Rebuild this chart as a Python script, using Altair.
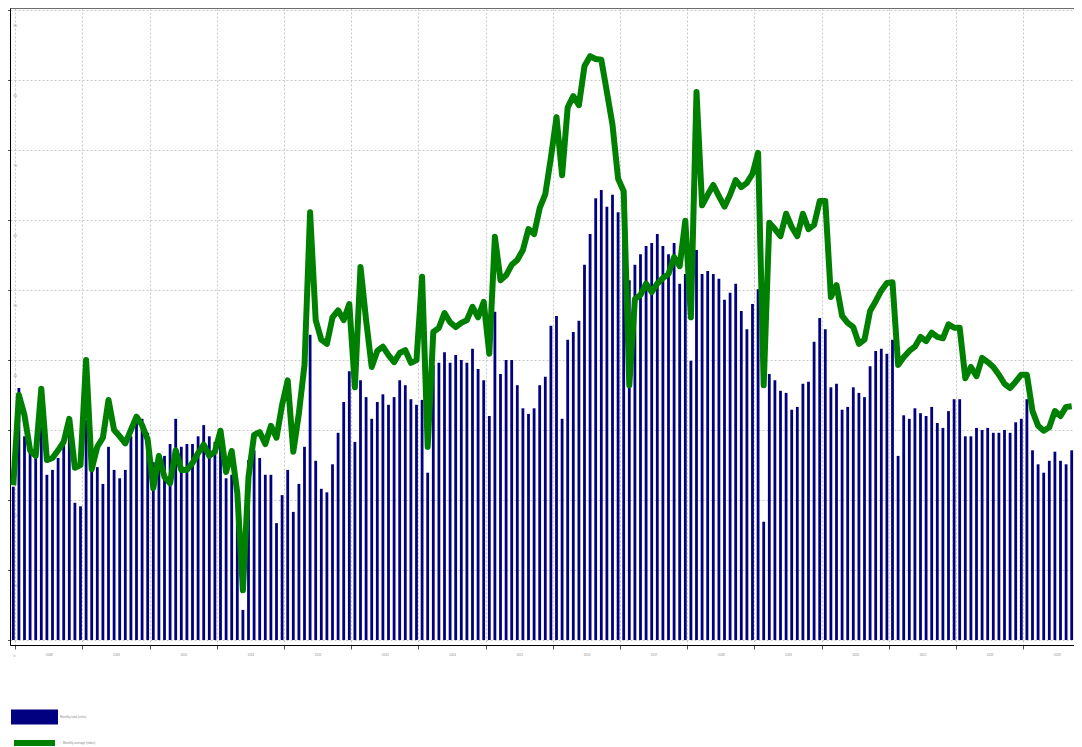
import altair as alt
import pandas as pd

# Monthly series (190 months). Values in chart units (gridline step = 10).
bar_values = [
    21.9, 36.0, 29.1, 27.1, 26.4, 30.4, 23.6, 24.3, 26.0, 27.9, 31.1, 19.6,
    19.1, 31.4, 24.4, 24.7, 22.3, 27.6, 24.3, 23.1, 24.3, 29.1, 31.4, 31.6,
    29.6, 25.4, 26.3, 26.3, 28.0, 31.6, 27.6, 28.0, 28.0, 29.1, 30.7, 29.1,
    28.3, 27.9, 23.1, 23.6, 21.4, 4.3, 25.7, 27.1, 26.0, 23.6, 23.6, 16.7,
    20.7, 24.3, 18.3, 22.3, 27.6, 43.6, 25.6, 21.6, 21.1, 25.1, 29.6, 34.0,
    38.4, 28.3, 37.1, 34.7, 31.6, 34.0, 35.1, 33.6, 34.7, 37.1, 36.4, 34.4,
    33.6, 34.3, 23.9, 39.3, 39.6, 41.1, 39.6, 40.7, 40.0, 39.6, 41.6, 38.7,
    37.1, 32.0, 46.9, 38.0, 40.0, 40.0, 36.4, 33.1, 32.3, 33.1, 36.4, 37.6,
    44.9, 46.3, 31.6, 42.9, 44.0, 45.6, 53.6, 58.0, 63.1, 64.3, 61.9, 63.6,
    61.1, 61.1, 51.4, 53.6, 55.1, 56.3, 56.7, 58.0, 56.3, 55.1, 56.7, 50.9,
    52.3, 39.9, 55.7, 52.3, 52.7, 52.3, 51.6, 48.6, 49.6, 50.9, 47.0, 44.4,
    48.0, 50.1, 16.9, 38.0, 37.1, 35.6, 35.3, 32.9, 33.3, 36.6, 36.9, 42.6,
    46.0, 44.4, 36.1, 36.6, 32.9, 33.3, 36.1, 35.3, 34.7, 39.1, 41.3, 41.6,
    40.9, 42.9, 26.3, 32.1, 31.6, 33.1, 32.4, 32.0, 33.3, 31.0, 30.3, 32.7,
    34.4, 34.4, 29.1, 29.1, 30.3, 30.0, 30.3, 29.6, 29.6, 30.0, 29.6, 31.1,
    31.6, 34.4, 27.1, 25.1, 23.9, 25.6, 26.9, 25.6, 25.1, 27.1,
]

line_values = [
    22.1, 35.0, 32.1, 27.1, 26.3, 35.9, 25.7, 26.0, 27.1, 28.3, 31.6, 24.6,
    25.0, 40.0, 24.4, 27.6, 28.9, 34.3, 30.0, 29.1, 28.1, 30.0, 31.9, 30.7,
    28.6, 21.7, 26.3, 23.3, 22.4, 27.1, 24.3, 24.3, 25.3, 26.7, 27.9, 26.3,
    26.9, 29.9, 24.0, 27.0, 21.0, 7.1, 23.3, 29.3, 29.7, 28.0, 30.6, 28.9,
    33.6, 37.1, 26.9, 32.4, 39.3, 61.1, 45.7, 42.9, 42.3, 46.1, 47.1, 45.7,
    48.0, 36.1, 53.3, 45.7, 39.0, 41.3, 41.9, 40.7, 39.7, 41.0, 41.4, 39.6,
    40.0, 51.9, 27.6, 44.0, 44.6, 46.7, 45.4, 44.7, 45.3, 45.7, 47.6, 46.1,
    48.3, 40.9, 57.6, 51.4, 52.1, 53.6, 54.3, 55.7, 58.7, 58.0, 61.7, 63.7,
    68.9, 74.7, 66.4, 76.1, 77.7, 76.4, 82.0, 83.4, 83.0, 82.9, 78.3, 73.6,
    65.9, 64.1, 36.4, 48.7, 49.3, 50.9, 49.7, 50.9, 51.7, 52.3, 54.7, 53.4,
    59.9, 46.1, 78.3, 62.1, 63.6, 65.0, 63.4, 61.9, 63.6, 65.7, 64.7, 65.3,
    66.6, 69.6, 36.4, 59.6, 58.7, 57.7, 60.9, 59.0, 57.7, 60.9, 58.7, 59.3,
    62.7, 62.7, 49.0, 50.7, 46.3, 45.3, 44.7, 42.3, 42.9, 47.0, 48.4, 49.9,
    51.0, 51.1, 39.3, 40.4, 41.3, 41.9, 43.3, 42.7, 43.9, 43.3, 43.1, 45.1,
    44.6, 44.6, 37.4, 39.0, 37.7, 40.3, 39.7, 39.0, 37.9, 36.6, 36.0, 36.9,
    37.9, 37.9, 32.7, 30.6, 29.9, 30.4, 32.7, 32.0, 33.3, 33.4,
]

series_names = ["Monthly total (units)", "Monthly average (index)"]
first_year = 2008
y_tick_values = [0, 10, 20, 30, 40, 50, 60, 70, 80, 90]
x_tick_values = [0.357 + 12 * k for k in range(16)]

df = pd.DataFrame({
    "month": list(range(len(bar_values))),
    "bars": bar_values,
    "line": line_values,
    "s1": series_names[0],
    "s2": series_names[1],
})

W, H = 1064, 637
grid_color = "#c8c8c8"
x_axis = alt.Axis(
    values=x_tick_values, grid=True, gridDash=[2, 2], gridColor=grid_color,
    tickSize=4, tickColor="#555", labelOffset=33.6, labelFontSize=3,
    labelColor="#888", labelPadding=4, domainColor="#000", title=None,
    labelExpr=f"'' + ({first_year} + round((datum.value - 0.357) / 12))",
)
y_axis = alt.Axis(
    values=y_tick_values, grid=True, gridDash=[2, 2], gridColor=grid_color,
    tickSize=3, tickColor="#555", labelOffset=15, labelFontSize=3,
    labelColor="#888", labelPadding=-6, labelAlign="left",
    domainColor="#000", title=None,
)
x_enc = alt.X(
    "month:Q",
    scale=alt.Scale(domain=[-0.589, 189.411], nice=False, zero=False, padding=0),
    axis=x_axis,
)
y_scale = alt.Scale(domain=[-0.714, 90.286], nice=False, zero=False, padding=0)

bars = alt.Chart(df).mark_bar(size=2.8).encode(
    x=x_enc,
    y=alt.Y("bars:Q", scale=y_scale, axis=y_axis),
    y2=alt.value(H),
    fill=alt.Fill(
        "s1:N",
        scale=alt.Scale(domain=[series_names[0]], range=["#000080"]),
        legend=alt.Legend(
            title=None, orient="none", legendX=1, legendY=685.5, padding=0,
            symbolType="M-1,-0.32H1V0.32H-1Z", symbolSize=2209,
            symbolStrokeWidth=0, labelFontSize=3, labelColor="#888", labelOffset=2,
        ),
    ),
)

line = alt.Chart(df).mark_line(strokeWidth=6, strokeJoin="round").encode(
    x=x_enc,
    y=alt.Y("line:Q", scale=y_scale, axis=y_axis),
    stroke=alt.Stroke(
        "s2:N",
        scale=alt.Scale(domain=[series_names[1]], range=["#008000"]),
        legend=alt.Legend(
            title=None, orient="none", legendX=1, legendY=711.5, padding=0,
            symbolType="stroke", symbolSize=1681, symbolStrokeWidth=6,
            labelFontSize=3, labelColor="#888", labelOffset=5,
        ),
    ),
)

# top edge of the plot frame
frame_top = alt.Chart(pd.DataFrame({"edge": ["top"]})).mark_rule(color="#000", strokeWidth=1).encode(
    x=alt.value(0), x2=alt.value(W), y=alt.value(0)
)

chart = alt.layer(bars, line, frame_top).resolve_legend(
    fill="independent", stroke="independent"
).properties(
    width=W, height=H,
    autosize=alt.AutoSizeParams(type="none"),
    padding={"left": 2, "top": 0, "right": 0, "bottom": 101},
).configure_view(stroke=None).configure(background="white")

chart.save("out.html", embed_options={"renderer": "svg", "actions": False})
